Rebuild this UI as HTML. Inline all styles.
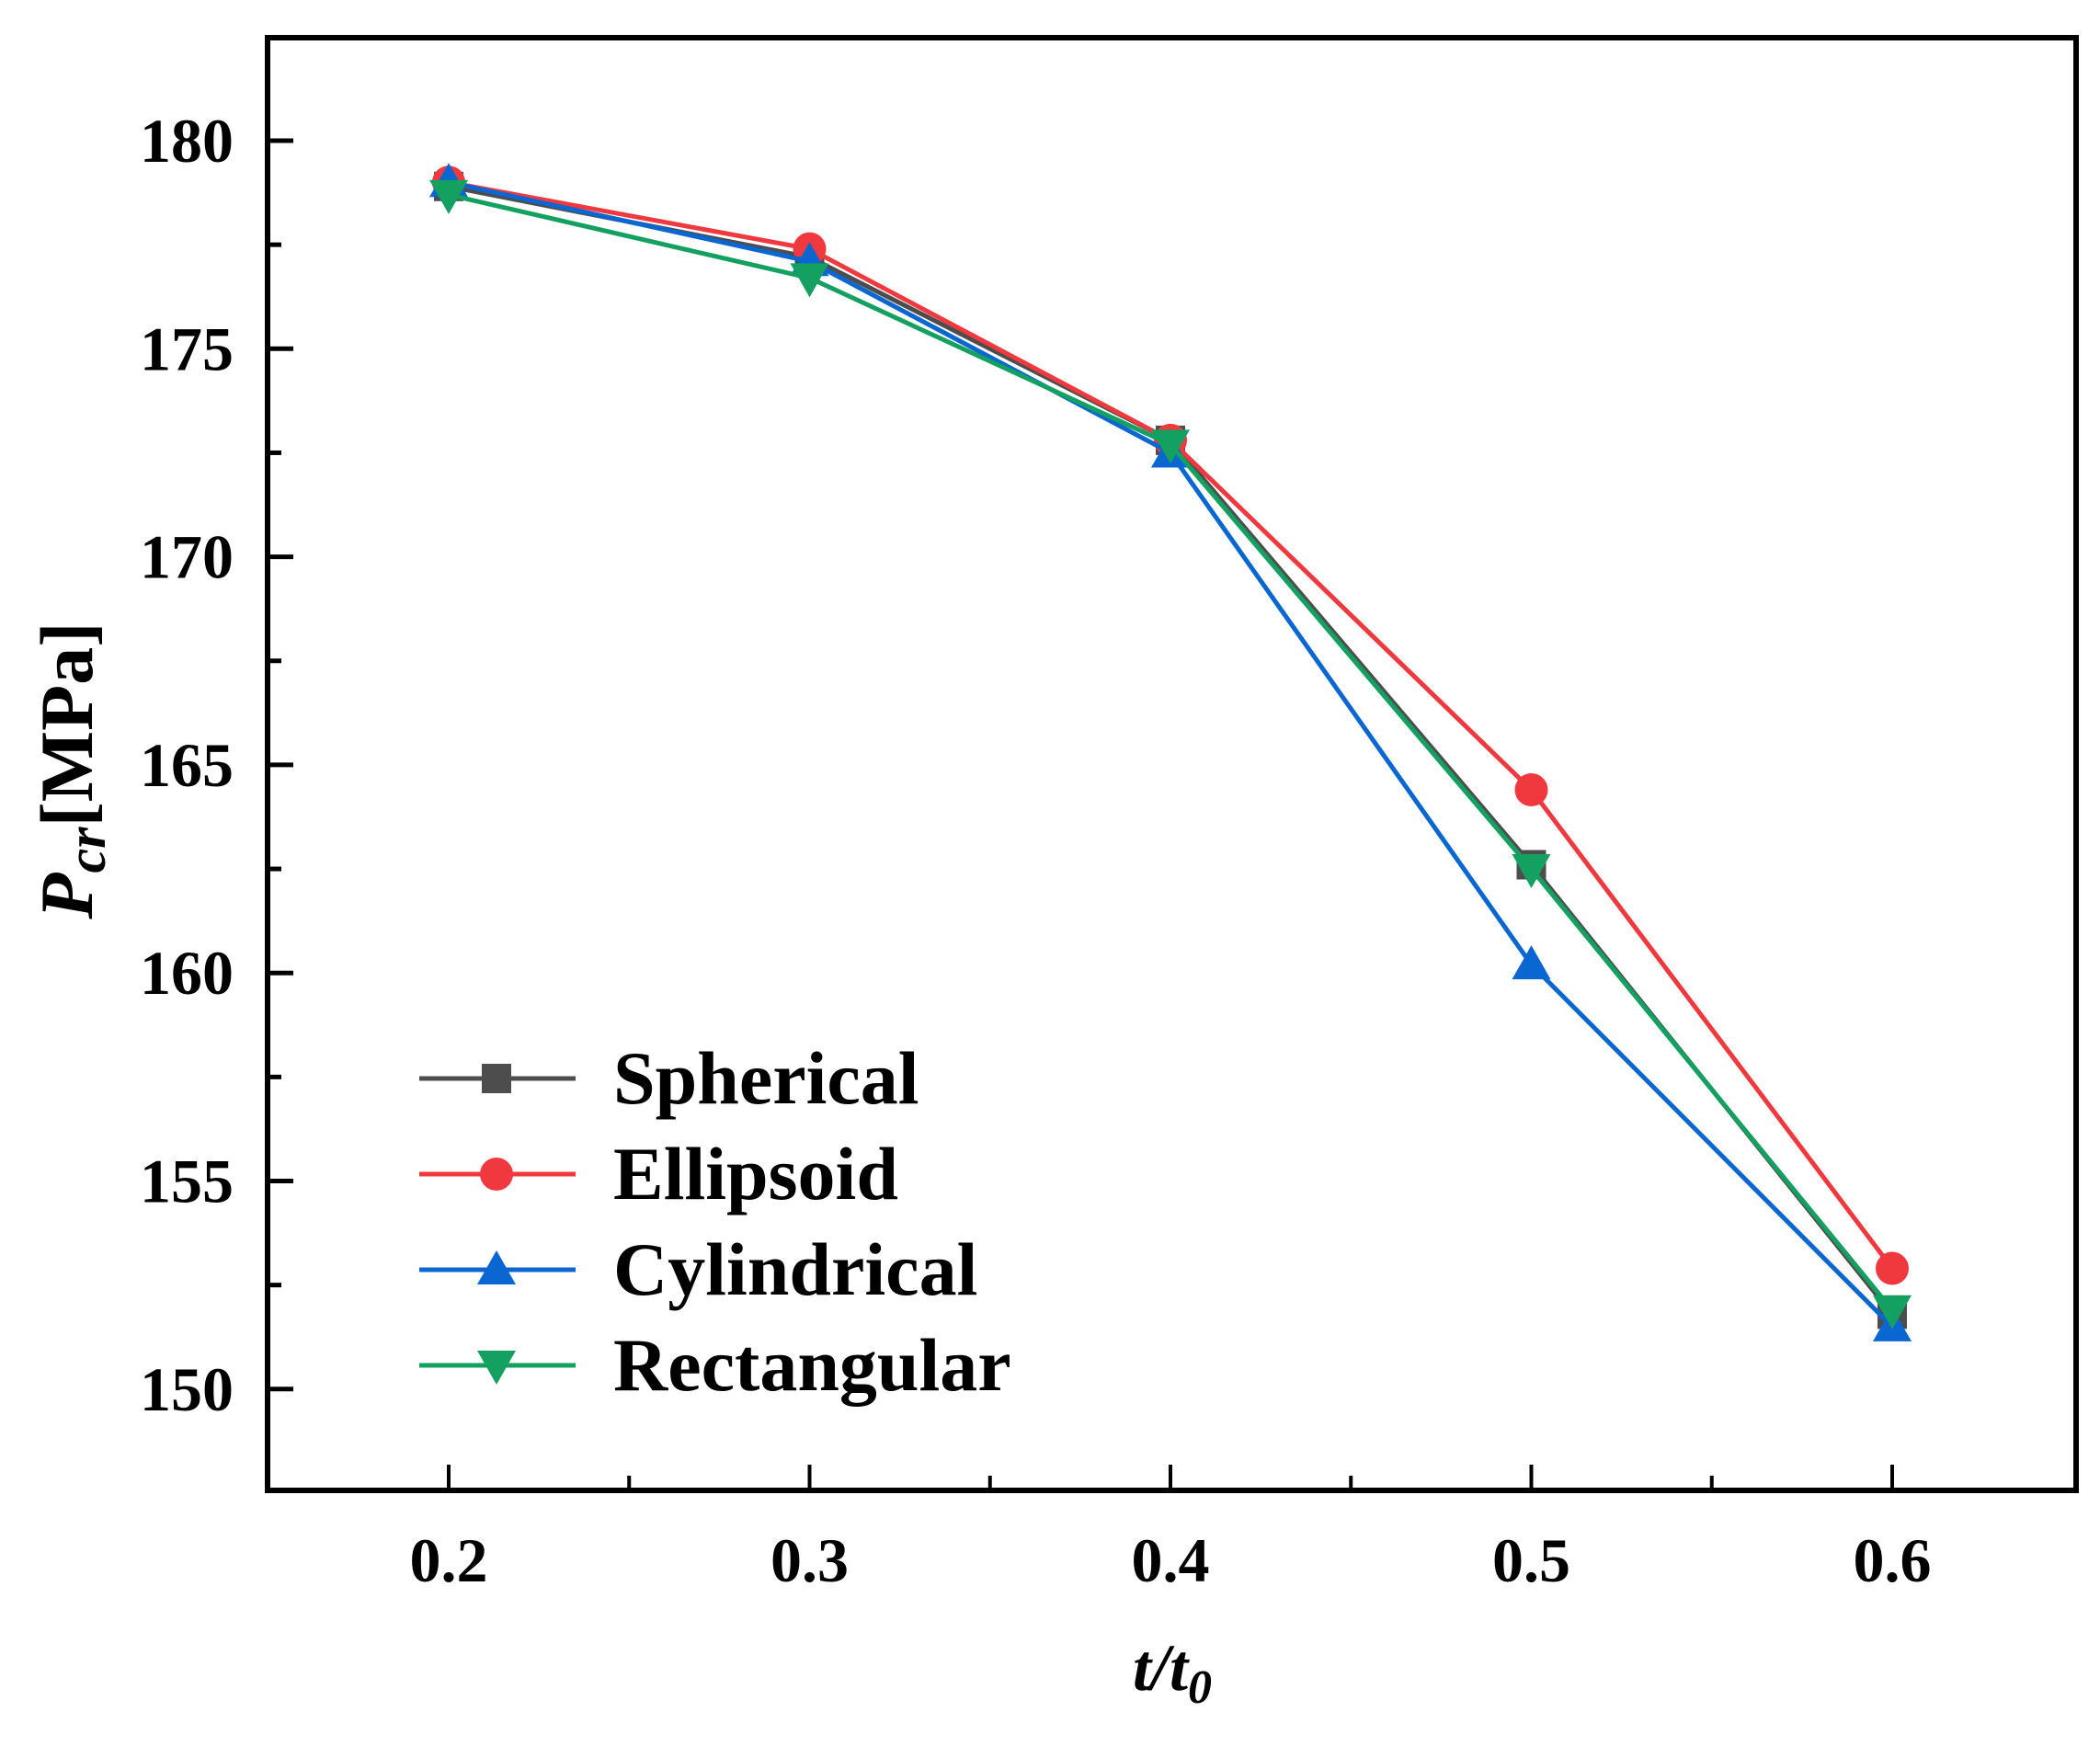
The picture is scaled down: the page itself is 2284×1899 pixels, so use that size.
<!DOCTYPE html>
<html><head><meta charset="utf-8"><style>
html,body{margin:0;padding:0;background:#fff;}
svg text{font-family:"Liberation Serif",serif;font-weight:bold;fill:#000;}
</style></head><body>
<svg id="chart" width="2284" height="1894" xmlns="http://www.w3.org/2000/svg">
<g id="marks"></g>
</svg>
<script>
const categories=[0.2,0.3,0.4,0.5,0.6];
const spherical=[178.9,177.2,172.8,162.6,151.8];
const ellipsoid=[179.0,177.4,172.8,164.4,152.9];
const cylindrical=[179.0,177.1,172.5,160.2,151.5];
const rectangular=[178.7,176.7,172.7,162.5,151.9];
const yTicks=[150,155,160,165,170,175,180];
const xTicks=[0.2,0.3,0.4,0.5,0.6];
const seriesNames=["Spherical","Ellipsoid","Cylindrical","Rectangular"];

const L=291,R=2258,T=41,B=1621;
function xs(v){return 488+(v-0.2)/0.1*392.5;}
function ys(v){return 153+(180-v)/5*226.3;}
const NS="http://www.w3.org/2000/svg";
const svg=document.getElementById('chart');
function mk(tag,attrs,parent){const e=document.createElementNS(NS,tag);for(const k in attrs)e.setAttribute(k,attrs[k]);(parent||svg).appendChild(e);return e;}

const fr=mk('rect',{x:L,y:T,width:R-L,height:B-T,fill:'none',stroke:'#000','stroke-width':6});



yTicks.forEach(v=>{
  const y=ys(v);
  const t=mk('line',{x1:L,x2:L+28,y1:y,y2:y,stroke:'#000','stroke-width':5});
  
  
  const lb=mk('text',{x:L-37,y:y+23,'text-anchor':'end','font-size':68});
  lb.textContent=v;
  
  
  if(v<180){const m=mk('line',{x1:L,x2:L+15,y1:ys(v+2.5),y2:ys(v+2.5),stroke:'#000','stroke-width':5});
  
  }
});
xTicks.forEach((v,i)=>{
  const x=xs(v);
  const t=mk('line',{x1:x,x2:x,y1:B,y2:B-28,stroke:'#000','stroke-width':4});
  
  
  const lb=mk('text',{x:x,y:B+99,'text-anchor':'middle','font-size':68});
  lb.textContent=v.toFixed(1);
  
  
  if(i<xTicks.length-1){const m=mk('line',{x1:xs(v+0.05),x2:xs(v+0.05),y1:B,y2:B-16,stroke:'#000','stroke-width':4});
  
  }
});

const yt=mk('text',{x:0,y:0,'font-size':82,transform:'translate(100,838) rotate(-90)','text-anchor':'middle'});
yt.innerHTML='<tspan font-style="italic">P</tspan><tspan font-style="italic" font-size="60" dy="14">cr</tspan><tspan dy="-14">[MPa]</tspan>';


const xt=mk('text',{x:1275,y:1838,'font-size':72,'text-anchor':'middle','font-style':'italic'});
xt.innerHTML='t/t<tspan font-size="52" dy="14">0</tspan>';



function marker(shape,cx,cy,color,parent){
  const s=19;
  if(shape==='square') return mk('rect',{x:cx-s+3,y:cy-s+3,width:2*s-6,height:2*s-6,fill:color},parent);
  if(shape==='circle') return mk('circle',{cx:cx,cy:cy,r:s-1,fill:color},parent);
  if(shape==='up') return mk('polygon',{points:`${cx},${cy-s-2} ${cx+s+2},${cy+s-3} ${cx-s-2},${cy+s-3}`,fill:color},parent);
  return mk('polygon',{points:`${cx},${cy+s+2} ${cx+s+2},${cy-s+3} ${cx-s-2},${cy-s+3}`,fill:color},parent);
}
const series=[
 {name:'spherical',data:spherical,color:'#4d4d4d',shape:'square'},
 {name:'ellipsoid',data:ellipsoid,color:'#f0393f',shape:'circle'},
 {name:'cylindrical',data:cylindrical,color:'#0a66d0',shape:'up'},
 {name:'rectangular',data:rectangular,color:'#13a060',shape:'down'}];
const marks=document.getElementById('marks');
series.forEach(s=>{
  const g=mk('g',{},marks);
  
  
  const pts=categories.map((c,i)=>xs(c)+','+ys(s.data[i])).join(' ');
  const pl=mk('polyline',{points:pts,fill:'none',stroke:s.color,'stroke-width':5},g);
  
  
  categories.forEach((c,i)=>{
    const m=marker(s.shape,xs(c),ys(s.data[i]),s.color,g);
    
    
  });
});

const lg=mk('g',{});


series.forEach((s,i)=>{
  const y=1173+i*104;
  const e=mk('g',{},lg);
  
  
  mk('line',{x1:456,x2:626,y1:y,y2:y,stroke:s.color,'stroke-width':5},e);
  marker(s.shape,540,y,s.color,e);
  const tx=mk('text',{x:667,y:y+27,'font-size':82},e);
  tx.textContent=seriesNames[i];
});
</script>
</body></html>
